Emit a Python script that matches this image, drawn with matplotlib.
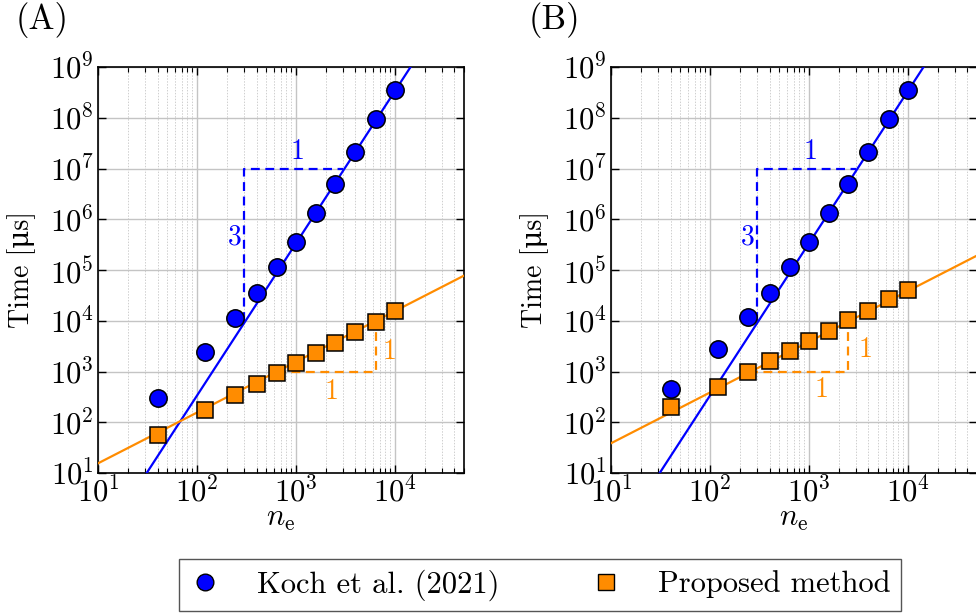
import numpy as np
import matplotlib
matplotlib.use("Agg")
import matplotlib.pyplot as plt
from matplotlib.ticker import LogLocator, NullLocator, LogFormatterMathtext
from matplotlib.lines import Line2D

plt.rcParams['font.family'] = ['cmr10', 'DejaVu Serif']
plt.rcParams['mathtext.fontset'] = 'cm'
plt.rcParams['axes.formatter.use_mathtext'] = True
plt.rcParams['axes.unicode_minus'] = False

# number of elements
n_elements = [40, 120, 240, 400, 640, 1000, 1600, 2500, 4000, 6400, 10000]

# run times in microseconds
koch_time_a = [305, 2450, 11500, 34700, 113000, 351000, 1.35e6, 4.88e6, 2.08e7, 9.3e7, 3.47e8]
proposed_time_a = [56, 172, 344, 558, 920, 1445, 2275, 3700, 6080, 9590, 15560]
koch_time_b = [446, 2770, 11700, 34700, 116000, 356000, 1.35e6, 4.95e6, 2.08e7, 9.3e7, 3.47e8]
proposed_time_b = [197, 500, 990, 1610, 2575, 3990, 6280, 10200, 15800, 26500, 40400]

# power-law trend lines: time = coeff * n_e**slope
koch_slope, koch_coeff = 3, 3.34e-4
proposed_slope = 1
proposed_coeff_a = 1.55
proposed_coeff_b = 3.85

# slope triangles (corner points)
koch_triangle = [(300, 1e4), (300, 1e7), (3000, 1e7)]
proposed_triangle_a = [(640, 1e3), (6400, 1e3), (6400, 1e4)]
proposed_triangle_b = [(250, 1e3), (2500, 1e3), (2500, 1e4)]

# slope labels: (x, y, text)
koch_labels = [(240, 4.5e5, "3"), (1050, 2.1e7, "1")]
proposed_labels_a = [(2300, 400, "1"), (8900, 2450, "1")]
proposed_labels_b = [(1350, 437, "1"), (3700, 2630, "1")]

BLUE = "#0000ff"
ORANGE = "#ff8c00"

xlim = (10, 5e4)
ylim = (10, 1e9)

fig = plt.figure(figsize=(9.76, 6.13), dpi=100)
W, H = 976, 613
ax_a = fig.add_axes([98 / W, 1 - 473 / H, 366 / W, 406 / H])
ax_b = fig.add_axes([611 / W, 1 - 473 / H, 366 / W, 406 / H])


def draw_panel(ax, koch, proposed, coeff_p, tri_p, labels_p, tag, tag_x):
    ax.set_xscale("log")
    ax.set_yscale("log")
    ax.set_xlim(*xlim)
    ax.set_ylim(*ylim)

    xs = np.logspace(np.log10(xlim[0]), np.log10(xlim[1]), 200)
    ax.plot(xs, koch_coeff * xs ** koch_slope, color=BLUE, lw=1.6, zorder=3)
    ax.plot(xs, coeff_p * xs ** proposed_slope, color=ORANGE, lw=1.6, zorder=3)

    tx, ty = zip(*koch_triangle)
    ax.plot(tx, ty, color=BLUE, lw=1.6, ls=(0, (4, 2.5)), zorder=3)
    tx, ty = zip(*tri_p)
    ax.plot(tx, ty, color=ORANGE, lw=1.6, ls=(0, (4, 2.5)), zorder=3)

    ax.plot(n_elements, koch, ls="none", marker="o", ms=12.5, mfc=BLUE,
            mec="black", mew=1.1, zorder=4)
    ax.plot(n_elements, proposed, ls="none", marker="s", ms=11.5, mfc=ORANGE,
            mec="black", mew=1.1, zorder=4)

    for x, y, s in koch_labels:
        ax.text(x, y, s, color=BLUE, fontsize=20, ha="center", va="center", zorder=5)
    for x, y, s in labels_p:
        ax.text(x, y, s, color=ORANGE, fontsize=20, ha="center", va="center", zorder=5)

    ax.xaxis.set_major_locator(LogLocator(base=10, numticks=10))
    ax.xaxis.set_minor_locator(LogLocator(base=10, subs=np.arange(2, 10), numticks=20))
    ax.yaxis.set_major_locator(LogLocator(base=10, numticks=20))
    ax.yaxis.set_minor_locator(NullLocator())
    ax.xaxis.set_major_formatter(LogFormatterMathtext())
    ax.yaxis.set_major_formatter(LogFormatterMathtext())

    ax.grid(True, which="major", color="#c4c4c4", lw=1.0, zorder=0)
    ax.grid(True, which="minor", axis="x", color="#cfcfcf", lw=0.7, ls=(0, (1.5, 1.5)), zorder=0)
    ax.set_axisbelow(True)

    ax.tick_params(which="both", direction="in", top=True, right=True,
                   labelsize=22, color="black")
    ax.tick_params(which="major", length=6, width=1.0, pad=3)
    ax.tick_params(which="minor", length=3.5, width=0.8)
    for sp in ax.spines.values():
        sp.set_linewidth(1.2)

    ax.set_xlabel(r"$n_{\mathrm{e}}$", fontsize=22, labelpad=-2)
    ax.set_ylabel("Time [μs]", fontsize=20)
    ax.yaxis.set_label_coords(-0.17, 0.5)
    fig.text(tag_x, 1 - 20 / H, tag, fontsize=25, ha="center", va="center")


draw_panel(ax_a, koch_time_a, proposed_time_a, proposed_coeff_a,
           proposed_triangle_a, proposed_labels_a, "(A)", 42 / W)
draw_panel(ax_b, koch_time_b, proposed_time_b, proposed_coeff_b,
           proposed_triangle_b, proposed_labels_b, "(B)", 554 / W)

handles = [
    Line2D([], [], ls="none", marker="o", ms=12, mfc=BLUE, mec="black", mew=1.0),
    Line2D([], [], ls="none", marker="s", ms=11, mfc=ORANGE, mec="black", mew=1.0),
]
fig.legend(handles, ["Koch et al. (2021)", "Proposed method"],
           loc="center", bbox_to_anchor=(540 / W, 1 - 585 / H), ncol=2,
           fontsize=22, frameon=True, fancybox=False, edgecolor="#555555",
           framealpha=1, columnspacing=3.0, handlelength=1.0, handletextpad=1.2,
           borderpad=0.35)

fig.savefig("out.png", dpi=100)
